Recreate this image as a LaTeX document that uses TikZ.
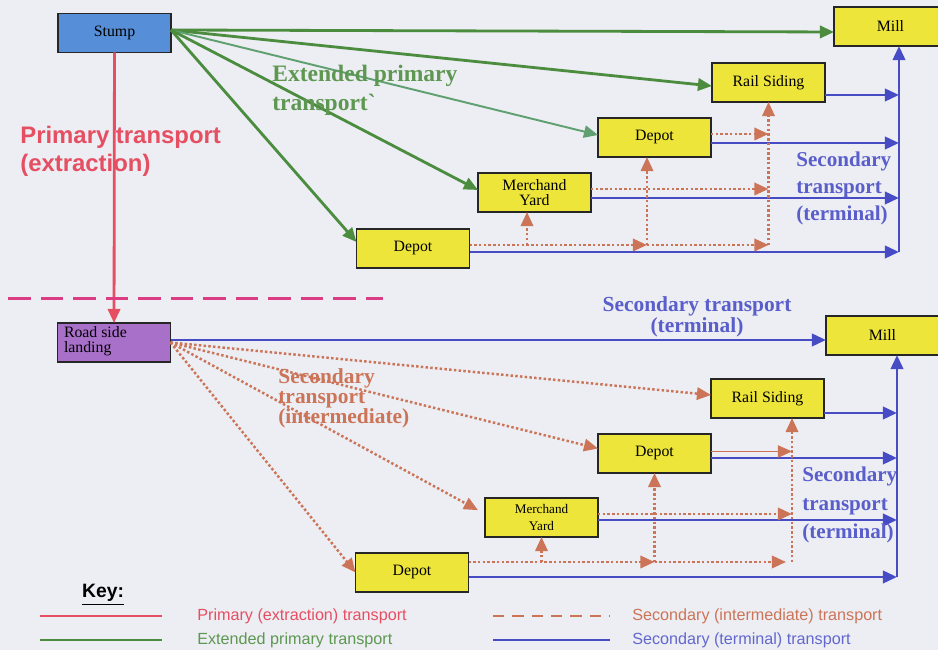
\documentclass[tikz,border=0pt]{standalone}
\usepackage{fontspec}
\setmainfont{Liberation Serif}
\setsansfont{Liberation Sans}
\definecolor{PageBg}{RGB}{236,238,243}
\definecolor{BoxYellow}{RGB}{238,229,58}
\definecolor{StumpBlue}{RGB}{86,142,216}
\definecolor{LandPurple}{RGB}{168,112,200}
\definecolor{PrimRed}{RGB}{230,78,98}
\definecolor{ExtGreen}{RGB}{76,140,62}
\definecolor{ExtLight}{RGB}{96,160,112}
\definecolor{TermBlue}{RGB}{72,76,196}
\definecolor{InterBrown}{RGB}{204,116,88}
\definecolor{SplitPink}{RGB}{220,60,130}
\usetikzlibrary{arrows.meta, positioning, calc, backgrounds}

\begin{document}
\begin{tikzpicture}[
    box/.style={rectangle, draw=black!85, line width=0.8pt, outer sep=0pt,
                minimum width=2.26cm, minimum height=0.78cm,
                font=\rmfamily\fontsize{9}{8.5}\selectfont, align=center, inner sep=1pt},
    yelbox/.style={box, fill=BoxYellow},
    stumpbox/.style={box, fill=StumpBlue},
    landbox/.style={box, fill=LandPurple, align=left},
    tip/.style={-{Triangle[length=8pt,width=7pt]}},
    prim/.style={tip, line width=1.6pt, PrimRed},
    ext/.style={tip, line width=1.6pt, ExtGreen},
    extlight/.style={tip, line width=1.1pt, ExtLight},
    term/.style={tip, line width=1.6pt, TermBlue},
    inter/.style={tip, line width=1.4pt, InterBrown, dash pattern=on 1.4pt off 1.3pt},
    interthin/.style={tip, line width=0.5pt, InterBrown},
    split/.style={line width=1.7pt, SplitPink, dash pattern=on 13pt off 5.5pt},
    lbl/.style={font=\bfseries\fontsize{12}{15.6}\selectfont, align=left, inner sep=0pt},
    keytxt/.style={font=\sffamily\fontsize{9.2}{11}\selectfont, anchor=west, inner sep=0pt}
  ]
    \fill[PageBg] (0,0) rectangle (18.76,13);
    \useasboundingbox (0,0) rectangle (18.76,13);

    % extended primary (top half)
    \node[stumpbox] (stump) at (2.29,12.34) {Stump};
    \node[yelbox] (dp1b) at (8.26,8.03) {Depot};
    \node[yelbox, above right=0.34cm and 0.17cm of dp1b] (my1) {Merchand\\Yard};
    \node[yelbox, above right=0.32cm and 0.14cm of my1] (dp1a) {Depot};
    \node[yelbox, above right=0.32cm and 0.02cm of dp1a] (rs1) {Rail Siding};
    \node[yelbox, above right=0.34cm and 0.18cm of rs1] (mill1) {Mill};

    % secondary (bottom half)
    \node[landbox] (rsl) at (2.28,6.15) {\raisebox{0.25cm}{\parbox{2cm}{Road side\\landing}}};
    \node[yelbox] (dp2b) at (8.24,1.55) {Depot};
    \node[yelbox, above right=0.32cm and 0.33cm of dp2b, font=\rmfamily\fontsize{7.5}{9.5}\selectfont] (my2) {Merchand\\Yard};
    \node[yelbox, above right=0.5cm and 0cm of my2] (dp2a) {Depot};
    \node[yelbox, above right=0.32cm and 0cm of dp2a] (rs2) {Rail Siding};
    \node[yelbox, above right=0.48cm and 0.04cm of rs2] (mill2) {Mill};

    \coordinate (bus1) at (17.98,7.96);
    \coordinate (bus2) at (17.94,1.46);
    \coordinate (dl) at (0.16,7.02);
    \coordinate (dr) at (7.66,7.02);

    % primary
    \draw[prim] (stump) -- (rsl);
    \draw[split] (dl) -- (dr);

    % extended primary arrows
    \coordinate (sx) at ([yshift=0.06cm]stump.east);
    \draw[ext] (sx) -- ([yshift=-0.11cm]mill1.west);
    \draw[ext] (sx) -- ([yshift=-0.07cm]rs1.west);
    \draw[extlight] (sx) -- ([yshift=0.05cm]dp1a.west);
    \draw[ext] (sx) -- ([yshift=0.05cm]my1.west);
    \draw[ext] (sx) -- ([yshift=0.13cm]dp1b.west);

    % terminal, top
    \draw[term] (bus1) -- (bus1 |- mill1.south);
    \draw[term] ([yshift=-0.25cm]rs1.east) coordinate (t1) -- (t1 -| bus1);
    \draw[term] ([yshift=-0.11cm]dp1a.east) coordinate (t2) -- (t2 -| bus1);
    \draw[term] ([yshift=-0.11cm]my1.east) coordinate (t3) -- (t3 -| bus1);
    \draw[term] ([yshift=-0.07cm]dp1b.east) coordinate (t4) -- (t4 -| bus1);

    % intermediate, top
    \coordinate (v1) at ([xshift=-0.15cm]my1.south);
    \coordinate (v2) at ([xshift=-0.15cm]dp1a.south);
    \draw[inter] ([yshift=0.07cm]dp1a.east) coordinate (o1) -- (o1 -| rs1.south);
    \draw[inter] ([yshift=0.07cm]my1.east) coordinate (o2) -- (o2 -| rs1.south);
    \draw[inter] ([yshift=0.07cm]dp1b.east) coordinate (o3) -- (o3 -| v2);
    \draw[inter] (o3 -| v2) -- (o3 -| rs1.south);
    \draw[inter] (o3 -| v1) -- (v1); \draw[inter] (o3 -| v2) -- (v2);
    \draw[inter] (o3 -| rs1.south) -- (rs1.south);

    % terminal, bottom
    \draw[term] ([yshift=0.05cm]rsl.east) coordinate (s0) -- (s0 -| mill2.west);
    \draw[term] (bus2) -- (bus2 |- mill2.south);
    \draw[term] ([yshift=-0.29cm]rs2.east) coordinate (s1) -- (s1 -| bus2);
    \draw[term] ([yshift=-0.09cm]dp2a.east) coordinate (s2) -- (s2 -| bus2);
    \draw[term] ([yshift=-0.05cm]my2.east) coordinate (s3) -- (s3 -| bus2);
    \draw[term] ([yshift=-0.09cm]dp2b.east) coordinate (s4) -- (s4 -| bus2);

    % intermediate, bottom
    \draw[inter] (rsl.east) -- ([yshift=0.07cm]rs2.west);
    \draw[inter] (rsl.east) -- ([yshift=0.1cm]dp2a.west);
    \draw[inter, shorten >=0.16cm] (rsl.east) -- ([yshift=0.07cm]my2.west);
    \draw[inter] (rsl.east) -- (dp2b.west);
    \coordinate (v5) at ([xshift=0.49cm]rs2.south);
    \draw[interthin] ([yshift=0.04cm]dp2a.east) coordinate (p1) -- (p1 -| v5);
    \draw[inter] ([yshift=0.07cm]my2.east) coordinate (p2) -- (p2 -| v5);
    \draw[inter] ([yshift=0.21cm]dp2b.east) coordinate (p3) -- (p3 -| dp2a.south);
    \draw[inter, shorten >=0.12cm] (p3 -| dp2a.south) -- (p3 -| v5);
    \draw[inter] (p3 -| my2.south) -- (my2.south);
    \draw[inter] (p3 -| dp2a.south) -- (dp2a.south);
    \draw[inter] (p3 -| v5) -- (v5);

    % labels
    \node[lbl, anchor=west, text=PrimRed, font=\sffamily\bfseries\fontsize{13.6}{16}\selectfont]
      (lprim) at (0.4,9.98) {Primary transport\\(extraction)};
    \node[lbl, anchor=west, text=ExtGreen!90!white, font=\bfseries\fontsize{13.4}{16.5}\selectfont]
      (lext) at (5.44,11.2) {Extended primary\\transport\textasciigrave};
    \node[lbl, anchor=west, text=TermBlue!90!white] (lterm1) at (15.92,9.23) {Secondary\\transport\\(terminal)};
    \node[lbl, anchor=west, text=TermBlue!90!white, font=\bfseries\fontsize{12}{16.2}\selectfont]
      (lterm2) at (16.04,2.9) {Secondary\\transport\\(terminal)};
    \node[lbl, align=center, text=TermBlue!90!white, font=\bfseries\fontsize{12.2}{10.5}\selectfont]
      (lterm3) at (13.94,6.66) {Secondary transport\\(terminal)};
    \node[lbl, anchor=west, text=InterBrown, font=\bfseries\fontsize{12.2}{11.4}\selectfont]
      (linter) at (5.56,5.04) {Secondary\\transport\\(intermediate)};

    % key
    \node[font=\sffamily\bfseries\fontsize{11}{13}\selectfont, inner sep=0pt] (key) at (2.06,1.1) {\underline{Key:}};
    \coordinate (k1a) at (0.8,0.68);  \coordinate (k1b) at (3.24,0.68);
    \coordinate (k2a) at (0.8,0.2);   \coordinate (k2b) at (3.24,0.2);
    \coordinate (k3a) at (9.86,0.68); \coordinate (k3b) at (12.2,0.68);
    \coordinate (k4a) at (9.86,0.2);  \coordinate (k4b) at (12.2,0.2);
    \draw[line width=1.4pt, PrimRed] (k1a) -- (k1b);
    \draw[line width=1.4pt, ExtGreen] (k2a) -- (k2b);
    \draw[line width=1.3pt, InterBrown, dash pattern=on 6.5pt off 4.5pt] (k3a) -- (k3b);
    \draw[line width=1.4pt, TermBlue] (k4a) -- (k4b);
    \node[keytxt, text=PrimRed] (t1k) at (3.94,0.68) {Primary (extraction) transport};
    \node[keytxt, text=ExtGreen!90!white] (t2k) at (3.94,0.2) {Extended primary transport};
    \node[keytxt, text=InterBrown] (t3k) at (12.64,0.68) {Secondary (intermediate) transport};
    \node[keytxt, text=TermBlue!85!white] (t4k) at (12.64,0.2) {Secondary (terminal) transport};
  \end{tikzpicture}
\end{document}
